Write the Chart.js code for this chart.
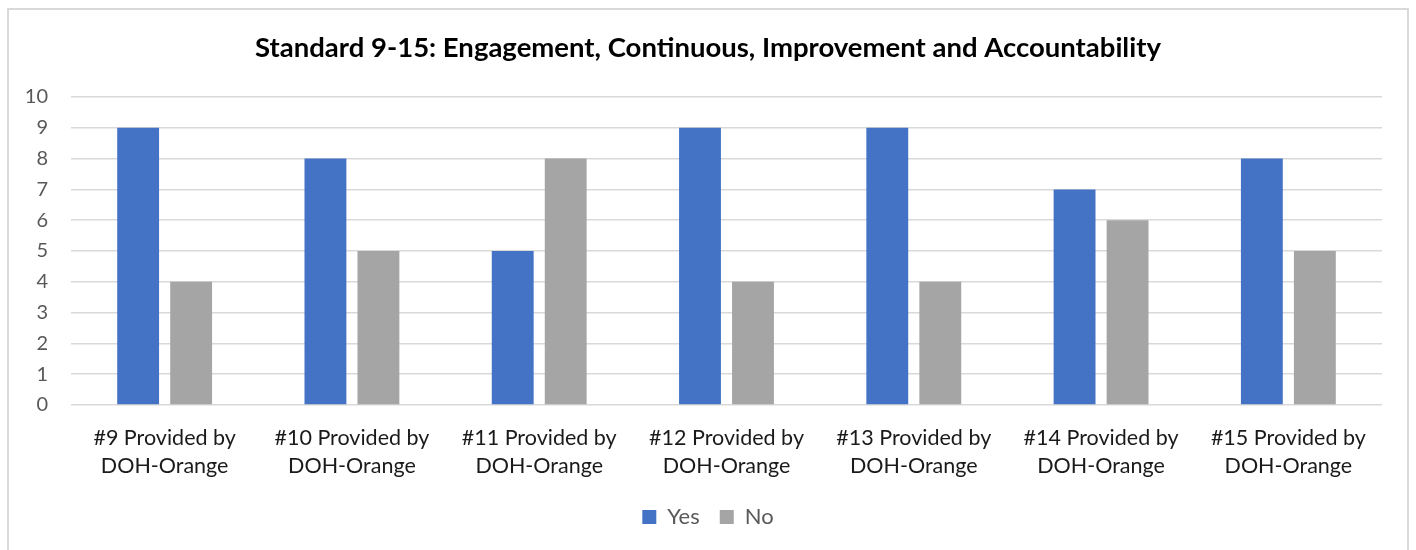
<!DOCTYPE html>
<html>
<head>
<meta charset="utf-8">
<script src="https://cdn.jsdelivr.net/npm/chart.js@4/dist/chart.umd.min.js"></script>
<style>
  html, body { margin: 0; padding: 0; background: #fff; }
  #wrap { width: 1416px; height: 550px; }
</style>
</head>
<body>
<div id="wrap"><canvas id="standardsChart" width="1416" height="550"></canvas></div>
<script>
const categories = [
    ['#9 Provided by', 'DOH-Orange'],
    ['#10 Provided by', 'DOH-Orange'],
    ['#11 Provided by', 'DOH-Orange'],
    ['#12 Provided by', 'DOH-Orange'],
    ['#13 Provided by', 'DOH-Orange'],
    ['#14 Provided by', 'DOH-Orange'],
    ['#15 Provided by', 'DOH-Orange']
];
const yesValues = [9, 8, 5, 9, 9, 7, 8];
const noValues = [4, 5, 8, 4, 4, 6, 5];
const yTicks = [0, 1, 2, 3, 4, 5, 6, 7, 8, 9, 10];

const fontFamily = 'Lato, "Open Sans", sans-serif';

// light grey frame around the whole chart
const frame = {
    id: 'frame',
    beforeDraw(chart) {
        const c = chart.ctx;
        c.save();
        c.strokeStyle = '#d9d9d9';
        c.lineWidth = 2;
        c.strokeRect(8, 9, 1400, 560);
        c.restore();
    }
};

const ctx = document.getElementById('standardsChart').getContext('2d');

const standardsChart = new Chart(ctx, {
    type: 'bar',
    data: {
        labels: categories,
        datasets: [{
            label: 'Yes',
            data: yesValues,
            backgroundColor: '#4472C4',
            borderWidth: 0
        }, {
            label: 'No',
            data: noValues,
            backgroundColor: '#A5A5A5',
            borderWidth: 0
        }]
    },
    options: {
        responsive: false,
        animation: false,
        categoryPercentage: 0.566,
        barPercentage: 0.79,
        layout: {
            padding: { left: 20, right: 20, top: 20, bottom: 12 }
        },
        plugins: {
            title: {
                display: true,
                text: 'Standard 9-15: Engagement, Continuous, Improvement and Accountability',
                color: '#000',
                font: { family: fontFamily, size: 27.5, weight: 'bold' },
                padding: { top: 12, bottom: 32 }
            },
            legend: {
                position: 'bottom',
                labels: {
                    color: '#595959',
                    font: { family: fontFamily, size: 22 },
                    boxWidth: 14,
                    boxHeight: 14,
                    padding: 20
                }
            },
            tooltip: { enabled: false }
        },
        scales: {
            x: {
                afterFit(scale) {
                    scale.height = 81;
                },
                grid: { display: false, drawTicks: false, tickLength: 0 },
                border: { display: false },
                ticks: {
                    color: '#1a1a1a',
                    font: { family: fontFamily, size: 21.5, lineHeight: 1.3 },
                    padding: 19,
                    maxRotation: 0,
                    autoSkip: false
                }
            },
            y: {
                min: 0,
                max: 10,
                afterBuildTicks(scale) {
                    scale.ticks = yTicks.map(v => ({ value: v }));
                },
                afterFit(scale) {
                    scale.width = 51;
                },
                grid: { color: '#d9d9d9', lineWidth: 1.5, drawTicks: false },
                border: { display: false },
                ticks: {
                    color: '#595959',
                    font: { family: fontFamily, size: 20 },
                    padding: 23
                }
            },
            // empty right-hand gutter so the plot ends short of the frame
            gutter: {
                type: 'linear',
                position: 'right',
                afterFit(scale) {
                    scale.width = 14;
                },
                grid: { display: false },
                border: { display: false },
                ticks: { display: false }
            }
        }
    },
    plugins: [frame]
});
</script>
</body>
</html>
